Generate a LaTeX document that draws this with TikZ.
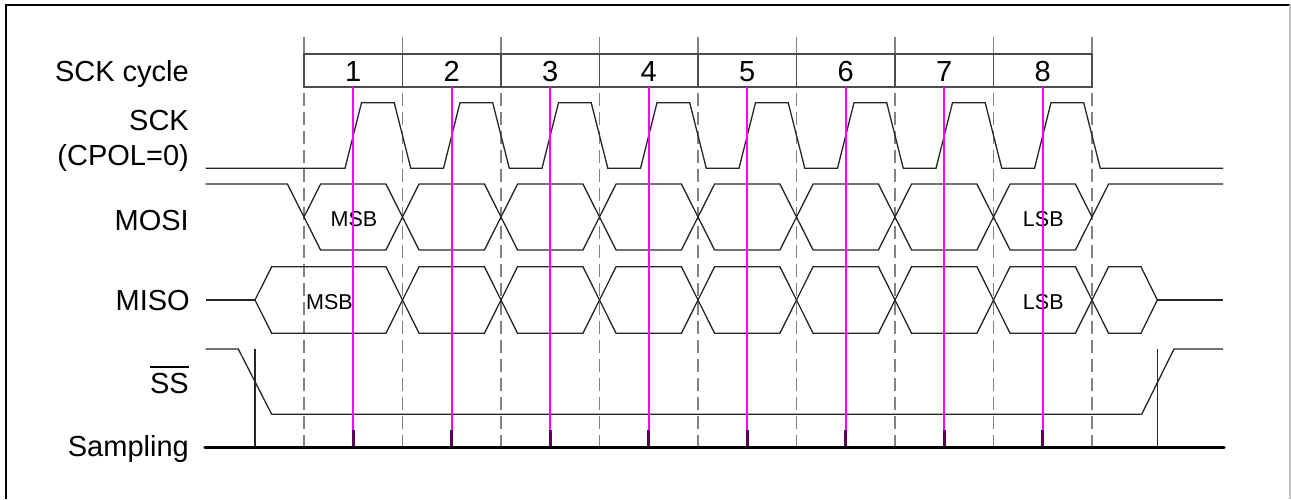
\documentclass[tikz,border=0pt]{standalone}
\usepackage{fontspec}
\setmainfont{Liberation Sans}
\definecolor{magpure}{RGB}{255,0,255}
\definecolor{tickpurple}{RGB}{90,0,90}
\definecolor{gridgray}{RGB}{130,130,130}
\begin{document}
\begin{tikzpicture}[x=1pt,y=-1pt,
  sig/.style={line width=1.3pt, color=black!85, line join=miter},
  gridline/.style={line width=1.3pt, color=gridgray, dash pattern=on 13pt off 6pt, dash phase=13pt},
  gridtop/.style={line width=1.3pt, color=gridgray},
  boxline/.style={line width=1.4pt, color=black!70},
  sampl/.style={line width=2pt, color=magpure},
  sampltick/.style={line width=3pt, color=tickpurple},
  lbl/.style={font=\fontsize{29}{31}\selectfont, anchor=base east, inner sep=0pt},
  num/.style={font=\fontsize{29}{31}\selectfont, anchor=base, inner sep=0pt},
  bit/.style={font=\fontsize{21.5}{23}\selectfont, anchor=base, inner sep=0pt}]
\useasboundingbox (0,0) rectangle (1291,499);
% frame
\draw[line width=1.4pt] (6,499) -- (6,5) -- (1290,5);
\draw[line width=1.2pt, black!25] (1290,5) -- (1290,499);

% dashed grid
\foreach \k in {0,...,8} {
  \draw[gridtop] ({304+98.5*\k},37) -- ({304+98.5*\k},54);
  \draw[gridline] ({304+98.5*\k},87) -- ({304+98.5*\k},447);
}
% cycle box
\draw[boxline] (304,54) rectangle (1092,87);
\foreach \k in {1,...,7} {
  \draw[boxline] ({304+98.5*\k},54) -- ({304+98.5*\k},87);
}
\foreach \k in {1,...,8} {
  \node[num] (n\k) at ({254.75+98.5*\k},81.7) {\k};
}

% labels
\node[lbl] (lcyc) at (189,81.7) {SCK cycle};
\node[lbl] (lsck) at (189,130) {SCK};
\node[lbl] (lcpol) at (189,165) {(CPOL=0)};
\node[lbl] (lmosi) at (189,230) {MOSI};
\node[lbl] (lmiso) at (190,310.7) {MISO};
\node[lbl] (ss) at (189,393.3) {SS};
\draw[line width=2pt] ([yshift=5.5pt]ss.north west) -- ([yshift=5.5pt]ss.north east);
\node[lbl] (lsamp) at (189,456.7) {Sampling};

% SCK
\draw[sig] (205.7,168.3) foreach \k in {0,...,7} {
  -- ({345+98.5*\k},168.3) -- ({361.5+98.5*\k},102.7)
  -- ({394.2+98.5*\k},102.7) -- ({410.8+98.5*\k},168.3) } -- (1223,168.3);

% MOSI
\draw[sig] (205.7,184) -- (287.4,184) -- (304,217);
\foreach \k in {0,...,7} {
  \draw[sig] ({304+98.5*\k},217) -- ({320.6+98.5*\k},184) -- ({385.9+98.5*\k},184)
    -- ({402.5+98.5*\k},217) -- ({385.9+98.5*\k},250) -- ({320.6+98.5*\k},250) -- cycle;
}
\draw[sig] (1092,217) -- (1108.6,184) -- (1223,184);
\node[bit] (mosimsb) at (354,226.7) {MSB};
\node[bit] (mosilsb) at (1043.3,226.7) {LSB};

% MISO
\draw[sig] (205.7,300) -- (255,300);
\draw[sig] (255,300) -- (271.7,266.7) -- (385.9,266.7) -- (402.5,300)
  -- (385.9,333.3) -- (271.7,333.3) -- cycle;
\foreach \k in {1,...,7} {
  \draw[sig] ({304+98.5*\k},300) -- ({320.6+98.5*\k},266.7) -- ({385.9+98.5*\k},266.7)
    -- ({402.5+98.5*\k},300) -- ({385.9+98.5*\k},333.3) -- ({320.6+98.5*\k},333.3) -- cycle;
}
\draw[sig] (1092,300) -- (1108.6,266.7) -- (1141,266.7) -- (1157.3,300)
  -- (1141,333.3) -- (1108.6,333.3) -- cycle;
\draw[sig] (1157.3,300) -- (1223,300);
\node[bit] (misomsb) at (329.5,309.3) {MSB};
\node[bit] (misolsb) at (1043.3,309.3) {LSB};

% SS
\draw[sig] (205.7,349) -- (238.3,349) -- (271.7,414.3) -- (1141.7,414.3) -- (1174,349) -- (1223,349);
\draw[sig] (255,349) -- (255,447.7);
\draw[sig] (1157.3,349) -- (1157.3,447.7);

% sampling instants
\foreach \k in {0,...,7} {
  \draw[sampl] ({353.25+98.5*\k},87) -- ({353.25+98.5*\k},447.7);
  \draw[sampltick] ({353.25+98.5*\k},430) -- ({353.25+98.5*\k},447.7);
}
\draw[line width=3.5pt, line cap=round] (205,447.7) -- (1224,447.7);
\end{tikzpicture}
\end{document}
